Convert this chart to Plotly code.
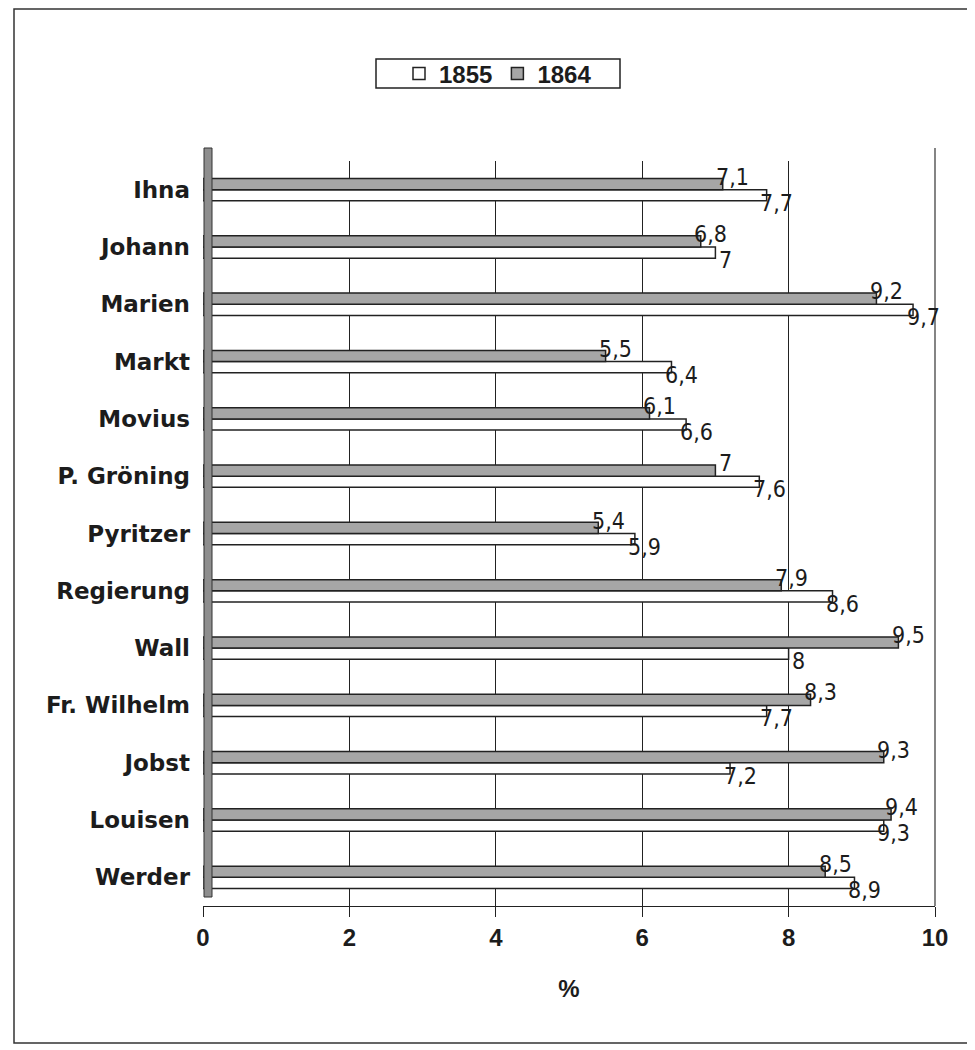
import plotly.graph_objects as go

categories = ["Ihna", "Johann", "Marien", "Markt", "Movius", "P. Gröning", "Pyritzer",
              "Regierung", "Wall", "Fr. Wilhelm", "Jobst", "Louisen", "Werder"]
values_1855 = [7.7, 7.0, 9.7, 6.4, 6.6, 7.6, 5.9, 8.6, 8.0, 7.7, 7.2, 9.3, 8.9]
values_1864 = [7.1, 6.8, 9.2, 5.5, 6.1, 7.0, 5.4, 7.9, 9.5, 8.3, 9.3, 9.4, 8.5]
series_names = ["1855", "1864"]
x_ticks = [0, 2, 4, 6, 8, 10]

# page body has an 8px margin; work in reference-pixel coordinates and offset
OFF = 8
W, H = 975 - OFF, 1050 - OFF
ML, MR, MT, MB = 203 - OFF, 40, 161 - OFF, 144
PW, PH = W - ML - MR, H - MT - MB

def px_x(p):
    return (p - OFF - ML) / PW

def px_y(p):
    return (H - MB - (p - OFF)) / PH

def fmt(v):
    return f"{v:g}".replace(".", ",")

TXT = "#1c1c1c"
BOLD = "Liberation Sans, Arial, sans-serif"
CAT = "DejaVu Sans, Verdana, sans-serif"
NARROW = "Liberation Sans Narrow, DejaVu Sans Condensed, Arial Narrow, sans-serif"

fig = go.Figure()
fig.add_trace(go.Bar(
    name=series_names[0], y=categories, x=values_1855, orientation="h",
    marker=dict(color="#ffffff", line=dict(color="#222222", width=1.5)),
))
fig.add_trace(go.Bar(
    name=series_names[1], y=categories, x=values_1864, orientation="h",
    marker=dict(color="#a6a6a6", line=dict(color="#222222", width=1.5)),
))

annotations = []
for c, v in zip(categories, values_1864):
    annotations.append(dict(x=v, y=c, xref="x", yref="y", text=fmt(v), showarrow=False,
                            xshift=10, yshift=13, font=dict(family=NARROW, size=23, color=TXT)))
for c, v in zip(categories, values_1855):
    annotations.append(dict(x=v, y=c, xref="x", yref="y", text=fmt(v), showarrow=False,
                            xshift=10, yshift=-13, font=dict(family=NARROW, size=23, color=TXT)))

shapes = [
    # outer frame
    dict(type="rect", xref="paper", yref="paper",
         x0=px_x(14), x1=px_x(972), y0=px_y(1043), y1=px_y(9),
         line=dict(color="#333333", width=1.5), fillcolor="rgba(0,0,0,0)", layer="below"),
    # legend box
    dict(type="rect", xref="paper", yref="paper",
         x0=px_x(376), x1=px_x(620), y0=px_y(88), y1=px_y(59),
         line=dict(color="#222222", width=1.5), fillcolor="rgba(0,0,0,0)", layer="below"),
    # left wall
    dict(type="rect", xref="paper", yref="paper",
         x0=px_x(204), x1=px_x(212), y0=px_y(897), y1=px_y(148),
         line=dict(color="#333333", width=1), fillcolor="#8e8e8e", layer="above"),
    # right wall edge
    dict(type="line", xref="paper", yref="paper",
         x0=1, x1=1, y0=0, y1=px_y(148),
         line=dict(color="#333333", width=1.2)),
]

fig.update_layout(
    width=W, height=H,
    margin=dict(l=ML, r=MR, t=MT, b=MB),
    paper_bgcolor="white", plot_bgcolor="white",
    barmode="group", bargap=0.61, bargroupgap=0,
    font=dict(family=BOLD, color=TXT),
    legend=dict(orientation="h", x=px_x(498), xanchor="center", y=px_y(74), yanchor="middle",
                borderwidth=0, bgcolor="rgba(0,0,0,0)",
                font=dict(family=BOLD, size=24, color=TXT, weight="bold"),
                itemwidth=30, tracegroupgap=0),
    annotations=annotations,
    shapes=shapes,
)
fig.update_xaxes(
    range=[0, 10], tickvals=x_ticks, ticktext=[str(t) for t in x_ticks],
    showgrid=True, gridcolor="#222222", gridwidth=1,
    showline=True, linecolor="#222222", linewidth=1.2,
    ticks="outside", ticklen=10, tickcolor="#222222",
    tickfont=dict(family=BOLD, size=24, color=TXT, weight="bold"),
    zeroline=False,
    title=dict(text="%", standoff=30, font=dict(family=BOLD, size=24, color=TXT, weight="bold")),
)
fig.update_yaxes(
    categoryorder="array", categoryarray=categories[::-1],
    showgrid=False, showline=False, ticks="", ticklabelstandoff=12,
    tickfont=dict(family=CAT, size=23, color=TXT, weight="bold"),
)

fig.write_html("out.html")
